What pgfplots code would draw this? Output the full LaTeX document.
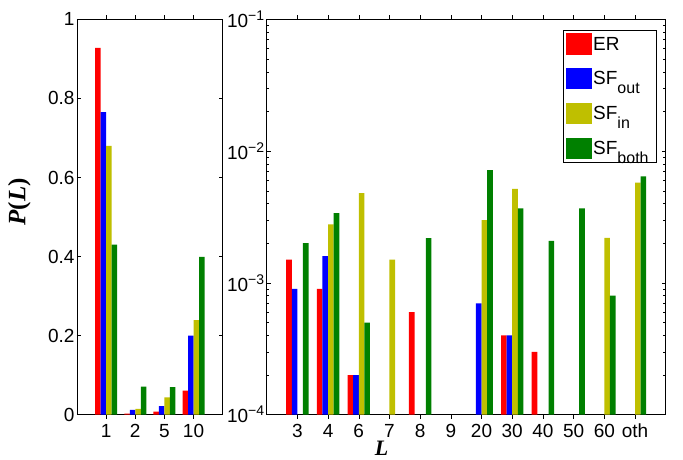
\documentclass[border=0pt]{standalone}
\usepackage{pgfplots}
\pgfplotsset{compat=1.18}
\usepackage{fontspec}
\setmainfont{Liberation Sans}
\newfontfamily\tnr{Liberation Serif}
\definecolor{mred}{rgb}{1,0,0}
\definecolor{mblue}{rgb}{0,0,1}
\definecolor{myel}{rgb}{0.75,0.75,0}
\definecolor{mgreen}{rgb}{0,0.5,0}
\newcommand{\msub}[1]{\raisebox{-8.5pt}{\fontsize{16}{17}\selectfont #1}}
\newcommand{\msup}[1]{\raisebox{7pt}{\fontsize{14}{15}\selectfont #1}}
\pgfplotsset{
  mybase/.style={
    scale only axis, anchor=south west,
    axis line style={line width=0.6pt}, tick style={line width=0.5pt, black},
    every tick label/.append style={font=\fontsize{19}{21}\selectfont},
    xticklabel style={yshift=-2pt},
    yticklabel style={xshift=1pt},
    major tick length=4pt, minor tick length=2.5pt,
    ybar=0pt,
    every axis plot post/.append style={draw=none,
      legend image code/.code={\fill[##1,/tikz/.cd,draw=none] (0pt,-10.3pt) rectangle (26pt,11pt);}},
  }
}
\begin{document}
\begin{tikzpicture}
\useasboundingbox (0pt,0pt) rectangle (683pt,459pt);
\begin{axis}[mybase,
  at={(77pt,44.3pt)}, width=145.7pt, height=395.4pt,
  xmin=0, xmax=5, ymin=0, ymax=1,
  xtick={1,2,3,4}, xticklabels={1,2,5,10},
  ytick={0,0.2,0.4,0.6,0.8,1}, yticklabels={0,0.2,0.4,0.6,0.8,1},
  bar width=5.5pt,
  ylabel={\fontsize{25}{27}\selectfont\tnr\bfseries\itshape P\upshape(\itshape L\upshape)},
  ylabel style={at={(rel axis cs:-0.395,0.538)}, anchor=center, inner sep=0pt},
]
\addplot[fill=mred] coordinates {(1,0.928) (2,0.003) (3,0.0076) (4,0.061)};
\addplot[fill=mblue] coordinates {(1,0.765) (2,0.012) (3,0.022) (4,0.200)};
\addplot[fill=myel] coordinates {(1,0.680) (2,0.015) (3,0.044) (4,0.239)};
\addplot[fill=mgreen] coordinates {(1,0.430) (2,0.071) (3,0.070) (4,0.399)};
\end{axis}
\begin{axis}[mybase,
  at={(266.7pt,44.3pt)}, width=399pt, height=395.4pt,
  xmin=0, xmax=13, ymode=log, ymin=1e-4, ymax=1e-1, log origin=infty,
  xtick={1,...,12}, xticklabels={3,4,6,7,8,9,20,30,40,50,60,oth},
  ytick={1e-4,1e-3,1e-2,1e-1},
  yticklabels={10\msup{−4},10\msup{−3},10\msup{−2},10\msup{−1}},
  bar width=5.6pt,
  xlabel={\fontsize{22}{24}\selectfont\tnr\bfseries\itshape L},
  xlabel style={at={(rel axis cs:0.288,0)}, anchor=north, inner sep=0pt, yshift=-26pt},
  legend style={at={(rel axis cs:0.978,0.973)}, anchor=north east, draw=black, line width=0.6pt,
    font=\fontsize{19}{21}\selectfont, row sep=13.5pt, inner xsep=3pt, inner ysep=3pt,
    nodes={inner sep=1pt}},
  legend cell align=left,
]
\addplot[fill=mred] coordinates {(1,1.5e-3) (2,9e-4) (3,2e-4) (5,6e-4) (8,4e-4) (9,3e-4)};
\addplot[fill=mblue] coordinates {(1,9e-4) (2,1.6e-3) (3,2e-4) (7,7e-4) (8,4e-4)};
\addplot[fill=myel] coordinates {(2,2.78e-3) (3,4.8e-3) (4,1.5e-3) (7,3e-3) (8,5.16e-3) (11,2.2e-3) (12,5.77e-3)};
\addplot[fill=mgreen] coordinates {(1,2e-3) (2,3.38e-3) (3,5e-4) (5,2.19e-3) (7,7.16e-3) (8,3.67e-3) (9,2.08e-3) (10,3.67e-3) (11,8e-4) (12,6.44e-3)};
\legend{ER,SF\msub{out},SF\msub{in},SF\msub{both}\hspace*{4pt}}
\end{axis}
\end{tikzpicture}
\end{document}
